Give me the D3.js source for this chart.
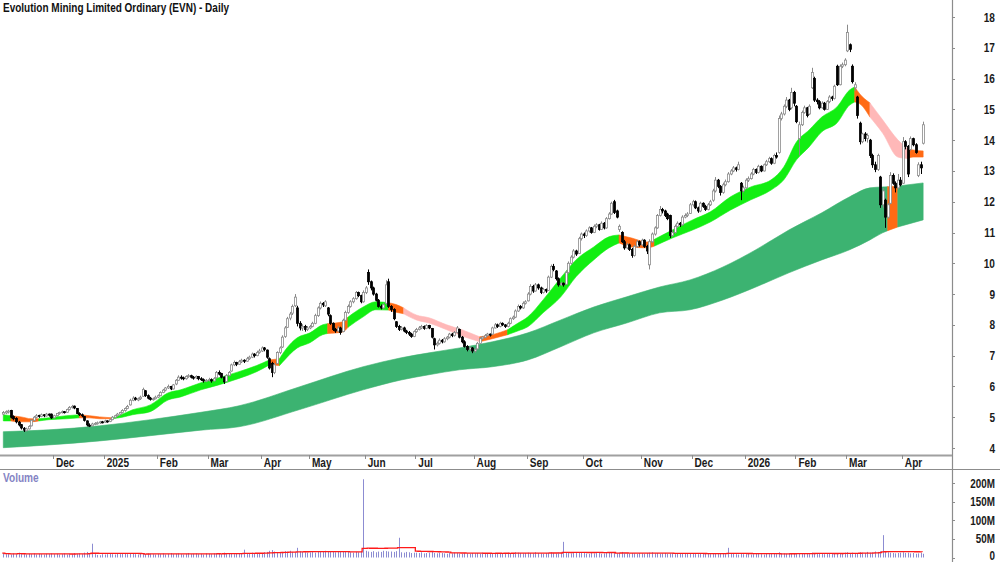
<!DOCTYPE html>
<html>
<head>
<meta charset="utf-8">
<script src="https://cdn.jsdelivr.net/npm/d3@7"></script>
<style>
body{margin:0;background:#fff}
svg{display:block;font-family:"Liberation Sans",Arial,sans-serif}
</style>
</head>
<body>
<div id="chart"></div>
<script>
// daily candles [open, high, low, close], Nov 2024 .. Apr 2026
var ohlc = [
// Nov 2024
[5.10,5.20,5.06,5.15],[5.14,5.22,5.10,5.18],[5.18,5.24,5.12,5.20],[5.22,5.24,4.96,5.00],[5.02,5.06,4.90,4.95],
[4.96,5.00,4.80,4.85],[4.84,4.88,4.70,4.75],[4.76,4.78,4.60,4.65],[4.64,4.68,4.52,4.58],[4.56,4.66,4.54,4.62],
[4.62,4.74,4.60,4.70],[4.72,4.94,4.70,4.90],[4.90,5.04,4.86,5.00],[5.00,5.10,4.96,5.05],[5.06,5.08,4.98,5.02],
[5.02,5.12,5.00,5.08],[5.08,5.10,5.00,5.05],[5.04,5.14,5.02,5.10],[5.10,5.12,5.02,5.08],[5.10,5.12,4.94,4.98],
// Dec
[4.98,5.08,4.96,5.05],[5.05,5.14,5.02,5.12],[5.12,5.18,5.08,5.15],[5.15,5.22,5.12,5.18],[5.18,5.20,5.12,5.16],
[5.16,5.28,5.14,5.25],[5.25,5.36,5.22,5.32],[5.32,5.40,5.28,5.35],[5.36,5.38,5.26,5.30],[5.28,5.30,5.10,5.12],
[5.12,5.16,5.04,5.08],[5.08,5.12,5.00,5.05],[5.02,5.04,4.86,4.90],[4.88,4.90,4.70,4.75],[4.74,4.80,4.68,4.72],
[4.72,4.82,4.70,4.78],[4.78,4.84,4.74,4.80],[4.80,4.86,4.76,4.82],[4.82,4.88,4.78,4.85],[4.85,4.88,4.80,4.84],
// Jan 2025
[4.84,4.92,4.82,4.88],[4.88,4.90,4.82,4.86],[4.86,4.96,4.84,4.92],[4.92,5.04,4.90,5.00],[5.00,5.08,4.96,5.05],
[5.05,5.14,5.02,5.10],[5.10,5.18,5.06,5.15],[5.15,5.26,5.12,5.22],[5.22,5.32,5.18,5.28],[5.28,5.40,5.26,5.35],
[5.40,5.60,5.38,5.55],[5.55,5.68,5.52,5.62],[5.62,5.66,5.54,5.58],[5.56,5.64,5.52,5.60],[5.60,5.70,5.56,5.65],
[5.68,5.96,5.66,5.90],[5.86,5.88,5.66,5.70],[5.70,5.74,5.58,5.62],[5.62,5.66,5.54,5.58],[5.58,5.64,5.54,5.60],
[5.60,5.70,5.58,5.65],
// Feb
[5.65,5.74,5.62,5.70],[5.70,5.84,5.68,5.80],[5.80,5.92,5.78,5.88],[5.88,5.98,5.84,5.95],[5.95,6.06,5.92,6.00],
[6.00,6.02,5.88,5.92],[5.92,6.08,5.90,6.05],[6.08,6.24,6.04,6.20],[6.20,6.36,6.18,6.30],[6.30,6.36,6.22,6.28],
[6.28,6.32,6.20,6.25],[6.25,6.36,6.22,6.32],[6.32,6.40,6.28,6.35],[6.35,6.38,6.26,6.30],[6.30,6.34,6.22,6.28],
[6.28,6.36,6.24,6.32],[6.32,6.34,6.20,6.25],[6.25,6.30,6.18,6.22],[6.22,6.26,6.12,6.18],[6.18,6.24,6.14,6.20],
// Mar
[6.20,6.28,6.16,6.22],[6.22,6.26,6.12,6.18],[6.18,6.30,6.16,6.25],[6.28,6.50,6.26,6.45],[6.45,6.52,6.36,6.40],
[6.42,6.44,6.26,6.30],[6.30,6.32,6.08,6.15],[6.16,6.40,6.14,6.35],[6.35,6.50,6.32,6.45],[6.50,6.74,6.48,6.70],
[6.70,6.84,6.66,6.78],[6.78,6.80,6.66,6.72],[6.72,6.86,6.70,6.80],[6.80,6.90,6.76,6.85],[6.85,6.88,6.76,6.82],
[6.82,6.96,6.80,6.90],[6.90,7.00,6.86,6.95],[6.95,7.10,6.92,7.05],[7.05,7.08,6.94,7.00],[7.00,7.16,6.98,7.10],
[7.10,7.22,7.06,7.15],
// Apr
[7.15,7.30,7.12,7.25],[7.25,7.28,7.14,7.20],[7.18,7.20,6.90,6.95],[6.90,6.94,6.55,6.60],[6.75,6.80,6.30,6.45],
[6.45,6.76,6.40,6.70],[6.75,7.14,6.72,7.10],[7.10,7.30,7.05,7.25],[7.28,7.66,7.25,7.60],[7.62,7.96,7.58,7.90],
[7.92,8.26,7.90,8.20],[8.22,8.42,8.15,8.35],[8.38,8.66,8.32,8.60],[8.62,9.00,8.58,8.90],[8.55,8.62,7.95,8.05],
[8.05,8.12,7.82,7.90],[7.90,8.02,7.80,7.95],[7.95,8.00,7.78,7.85],[7.85,7.96,7.80,7.90],
// May
[7.90,8.00,7.86,7.95],[7.95,8.10,7.92,8.05],[8.05,8.36,8.02,8.30],[8.30,8.60,8.26,8.55],[8.55,8.76,8.50,8.70],
[8.70,8.74,8.58,8.65],[8.62,8.80,8.58,8.75],[8.55,8.58,8.28,8.35],[8.30,8.34,8.00,8.05],[8.05,8.08,7.80,7.85],
[7.85,7.90,7.74,7.80],[7.80,7.96,7.76,7.90],[7.90,7.94,7.68,7.75],[7.78,8.20,7.76,8.15],[8.15,8.46,8.12,8.40],
[8.40,8.66,8.36,8.60],[8.60,8.80,8.56,8.75],[8.75,8.90,8.70,8.85],[8.85,9.10,8.82,9.05],[9.05,9.08,8.90,8.95],
[8.95,8.98,8.70,8.75],[8.75,9.12,8.72,9.05],
// Jun
[9.05,9.26,9.00,9.20],[9.70,9.80,9.30,9.40],[9.40,9.44,9.12,9.20],[9.20,9.24,8.95,9.00],[9.00,9.04,8.76,8.80],
[8.80,8.84,8.56,8.60],[8.60,8.66,8.50,8.55],[8.55,8.70,8.52,8.65],[8.70,9.45,8.66,9.30],[9.40,9.50,8.55,8.60],
[8.60,8.64,8.42,8.50],[8.50,8.54,8.15,8.20],[8.10,8.12,7.90,7.95],[7.95,8.00,7.80,7.85],[7.85,7.96,7.82,7.90],
[7.90,7.94,7.76,7.80],[7.80,7.84,7.70,7.75],[7.75,7.80,7.64,7.70],[7.70,7.74,7.58,7.62],[7.62,7.82,7.60,7.78],
// Jul
[7.78,7.90,7.74,7.85],[7.85,7.96,7.82,7.90],[7.90,8.00,7.86,7.95],[7.95,7.98,7.84,7.88],[7.88,8.02,7.86,7.98],
[7.98,8.00,7.86,7.90],[7.88,7.90,7.56,7.60],[7.55,7.58,7.20,7.35],[7.35,7.46,7.30,7.40],[7.40,7.56,7.36,7.50],
[7.50,7.54,7.40,7.45],[7.45,7.60,7.42,7.55],[7.55,7.64,7.50,7.60],[7.60,7.74,7.56,7.70],[7.70,7.74,7.60,7.65],
[7.65,7.80,7.62,7.75],[7.75,7.96,7.72,7.90],[7.85,7.88,7.56,7.60],[7.60,7.64,7.40,7.45],[7.45,7.50,7.26,7.30],
[7.30,7.34,7.14,7.20],[7.20,7.30,7.16,7.25],[7.25,7.28,7.08,7.15],
// Aug
[7.15,7.24,7.10,7.20],[7.22,7.44,7.20,7.40],[7.40,7.60,7.38,7.55],[7.55,7.64,7.52,7.60],[7.60,7.70,7.56,7.65],
[7.65,7.74,7.62,7.70],[7.70,7.72,7.62,7.68],[7.70,7.94,7.68,7.90],[7.90,8.06,7.88,8.00],[8.00,8.04,7.90,7.95],
[7.95,8.10,7.92,8.05],[8.05,8.08,7.96,8.00],[8.00,8.02,7.90,7.95],[7.95,8.10,7.92,8.05],[8.05,8.24,8.02,8.20],
[8.20,8.30,8.16,8.25],[8.25,8.50,8.22,8.45],[8.45,8.66,8.42,8.60],[8.60,8.64,8.50,8.55],[8.55,8.76,8.52,8.70],
[8.70,8.80,8.66,8.75],
// Sep
[8.78,9.06,8.76,9.00],[9.00,9.32,8.96,9.25],[9.25,9.30,9.04,9.10],[9.10,9.36,9.08,9.30],[9.30,9.34,9.14,9.20],
[9.20,9.24,9.00,9.05],[9.05,9.20,9.02,9.15],[9.15,9.18,9.04,9.10],[9.12,9.60,9.10,9.55],[9.55,9.96,9.52,9.90],
[9.90,9.98,9.74,9.80],[9.75,9.78,9.44,9.50],[9.50,9.54,9.24,9.30],[9.30,9.40,9.26,9.35],[9.35,9.38,9.24,9.30],
[9.32,9.76,9.30,9.70],[9.70,10.06,9.66,10.00],[10.00,10.26,9.96,10.20],[10.20,10.46,10.16,10.40],[10.40,10.44,10.24,10.30],
[10.32,10.86,10.30,10.80],[10.80,11.00,10.74,10.95],
// Oct
[10.95,11.00,10.82,10.90],[10.90,11.10,10.86,11.05],[11.05,11.20,11.00,11.15],[11.15,11.18,10.96,11.00],[11.00,11.26,10.98,11.20],
[11.20,11.30,11.14,11.25],[11.25,11.28,11.06,11.10],[11.10,11.36,11.08,11.30],[11.30,11.34,11.10,11.15],[11.15,11.50,11.12,11.45],
[11.45,11.66,11.42,11.60],[11.60,12.00,11.58,11.95],[12.00,12.06,11.60,11.65],[11.70,11.74,11.46,11.50],[11.10,11.26,11.02,11.20],
[11.00,11.04,10.66,10.70],[10.70,10.76,10.44,10.50],[10.50,10.66,10.46,10.60],[10.60,10.64,10.40,10.45],[10.45,10.50,10.18,10.25],
[10.25,10.60,10.22,10.55],[10.55,10.76,10.50,10.70],[10.70,10.74,10.54,10.60],
// Nov
[10.60,10.80,10.56,10.75],[10.75,10.78,10.50,10.55],[10.55,10.60,10.30,10.40],[9.95,10.78,9.80,10.70],[10.70,11.00,10.66,10.95],
[10.95,11.20,10.90,11.15],[11.15,11.60,11.12,11.55],[11.55,11.86,11.52,11.75],[11.75,11.80,11.62,11.70],[11.70,11.74,11.50,11.55],
[11.60,11.64,11.40,11.45],[11.55,11.58,10.82,10.90],[10.90,11.08,10.86,11.00],[11.00,11.26,10.96,11.20],[11.20,11.36,11.16,11.30],
[11.30,11.34,11.18,11.25],[11.25,11.56,11.22,11.50],[11.50,11.62,11.46,11.55],[11.55,11.66,11.50,11.60],[11.62,11.96,11.60,11.90],
// Dec
[11.90,12.06,11.84,12.00],[12.00,12.04,11.76,11.80],[11.80,11.84,11.64,11.70],[11.70,12.00,11.66,11.95],[11.95,11.98,11.80,11.85],
[11.85,11.90,11.70,11.75],[11.75,11.96,11.72,11.90],[11.90,12.06,11.86,12.00],[12.05,12.42,12.00,12.35],[12.35,12.80,12.30,12.70],
[12.70,12.74,12.44,12.50],[12.50,12.54,12.20,12.30],[12.30,12.62,12.26,12.55],[12.55,12.72,12.50,12.65],[12.65,12.96,12.62,12.90],
[12.90,13.06,12.86,13.00],[13.00,13.16,12.96,13.10],[13.10,13.14,12.98,13.05],[13.05,13.30,13.02,13.20],[12.60,12.64,12.05,12.35],
[12.35,12.52,12.30,12.45],
// Jan 2026
[12.45,12.76,12.42,12.70],[12.70,12.82,12.64,12.75],[12.75,12.96,12.72,12.90],[12.90,13.10,12.86,13.05],[13.05,13.08,12.90,12.95],
[12.95,13.20,12.92,13.15],[13.15,13.18,12.96,13.00],[13.00,13.24,12.98,13.20],[13.20,13.36,13.16,13.30],[13.30,13.46,13.26,13.40],
[13.40,13.44,13.20,13.25],[13.25,13.56,13.22,13.50],[13.50,13.60,13.40,13.45],[13.60,14.80,13.56,14.70],[14.70,14.92,14.64,14.85],
[14.85,15.16,14.80,15.10],[15.10,15.40,15.04,15.30],[15.30,15.34,14.94,15.00],[15.05,15.70,15.00,15.55],[15.55,15.60,15.10,15.20],
// Feb
[15.10,15.14,14.55,14.60],[14.05,14.60,13.50,14.50],[14.50,14.96,14.46,14.90],[14.90,15.12,14.86,15.05],[15.05,15.08,14.74,14.80],
[14.85,15.16,14.82,15.10],[15.70,16.35,15.66,16.20],[16.00,16.06,15.24,15.30],[15.30,15.36,15.16,15.25],[15.25,15.30,15.00,15.05],
[15.05,15.26,15.02,15.20],[15.20,15.24,14.96,15.00],[15.00,15.30,14.98,15.25],[15.25,15.46,15.20,15.40],[15.40,15.44,15.28,15.35],
[15.35,15.80,15.32,15.75],[16.40,16.45,15.76,15.80],[15.80,16.46,15.78,16.40],[16.40,16.52,16.34,16.45],[16.45,16.66,16.40,16.60],
// Mar
[16.90,17.75,16.86,17.50],[17.10,17.14,16.86,16.95],[16.40,16.46,15.84,15.90],[15.70,15.88,15.60,15.80],[15.40,15.44,14.70,14.80],
[14.55,14.60,13.86,13.95],[13.95,14.24,13.90,14.20],[14.20,14.26,13.96,14.05],[14.05,14.22,13.92,14.15],[14.00,14.04,13.42,13.50],
[13.50,13.56,13.10,13.20],[13.20,13.30,12.96,13.05],[13.05,13.56,13.00,13.50],[12.80,12.84,11.80,11.90],[11.90,12.45,11.80,12.35],
[12.05,12.10,11.15,11.50],[11.50,11.95,11.45,11.90],[11.95,12.96,11.92,12.85],[12.85,12.92,12.55,12.60],[12.60,12.66,12.30,12.45],
[12.45,12.90,12.40,12.70],[12.70,12.80,12.50,12.55],
// Apr
[12.60,14.10,12.58,13.95],[13.95,14.00,13.70,13.80],[13.80,13.84,12.80,12.90],[13.70,14.12,13.66,14.05],[14.05,14.08,13.80,13.85],
[13.85,13.90,13.56,13.60],[12.85,13.28,12.80,13.20],[13.20,13.30,12.90,13.10],[13.90,14.60,13.86,14.50]
];

// daily volume, millions
var volume = [
12,9,10,8,11,9,13,10,9,8,10,9,11,8,10,9,8,10,9,11,
9,10,8,9,11,8,10,9,12,10,11,9,13,15,12,37,9,7,6,9,
8,9,10,9,8,11,9,10,12,9,11,10,9,8,12,10,9,11,10,9,8,
10,9,11,8,10,12,9,10,11,9,8,10,12,9,10,11,9,10,8,11,
10,9,11,12,10,9,13,11,10,12,9,11,10,12,21,12,10,13,11,12,11,
12,14,15,18,20,16,14,13,15,17,16,18,15,14,26,17,15,14,13,
14,15,13,16,17,15,18,16,17,15,14,16,15,17,16,15,14,13,15,14,16,210,
18,16,15,17,14,16,15,18,17,16,16,15,17,53,14,13,15,14,12,13,
13,12,14,11,12,13,15,12,11,13,12,11,10,12,11,13,12,11,10,12,11,10,12,
11,12,10,13,11,12,10,11,13,12,10,11,12,13,11,12,14,13,12,11,12,
13,12,11,14,12,11,10,12,13,14,12,11,13,12,42,13,12,11,13,12,14,13,
12,11,10,12,11,13,12,10,11,12,13,14,12,11,13,15,12,11,10,12,11,10,12,
11,10,12,13,14,11,12,10,11,12,10,11,12,9,10,11,10,12,11,10,
10,11,9,10,12,11,10,9,11,10,12,11,10,9,26,10,11,9,8,10,9,
9,10,8,9,10,11,9,8,10,9,11,10,9,14,12,11,10,12,11,10,
11,10,12,11,10,9,13,12,10,11,10,9,11,10,12,11,10,12,11,13,
14,12,13,11,12,14,13,12,15,13,14,16,15,17,60,15,14,13,12,11,12,13,
14,12,13,11,12,10,11,12,10
];

// month axis
var monthLabels = ["Dec","2025","Feb","Mar","Apr","May","Jun","Jul","Aug","Sep","Oct","Nov","Dec","2026","Feb","Mar","Apr"];
var monthStart  = [20,40,61,81,102,121,143,163,186,207,229,252,272,293,313,333,355];
var priceTicks = [4,5,6,7,8,9,10,11,12,13,14,15,16,17,18];
var volTicks = [0,50,100,150,200];
var volTickLabels = ["0","50M","100M","150M","200M"];

// short-term moving average ribbon (g rising, o mixed, p falling)
var shortIdx = [0,3,7,11,14,18,25,30,34,38,43,47,51,58,65,70,78,85,93,100,105,109,110,116,121,126,128,134,136,142,147,152,155,158,163,168,175,181,188,193,199,203,207,213,220,226,233,239,243,248,254,257,264,272,279,287,295,303,308,313,318,323,329,334,336,338,342,347,353,357,359,363];
var shortTop = [5.08,5.05,5.01,4.95,4.95,4.98,5.05,5.08,5.05,5.01,4.98,5.10,5.24,5.40,5.79,5.89,6.12,6.28,6.48,6.68,6.86,6.90,7.03,7.58,7.74,8.00,8.04,8.10,8.25,8.58,8.75,8.72,8.66,8.55,8.32,8.23,8.00,7.84,7.61,7.68,7.84,8.05,8.26,8.81,9.53,10.11,10.53,10.86,10.92,10.82,10.69,10.78,11.08,11.41,11.67,12.16,12.48,12.71,13.13,13.94,14.33,14.75,15.08,15.63,15.73,15.50,15.21,14.66,14.01,13.72,13.68,13.65];
var shortBot = [4.88,4.88,4.85,4.85,4.88,4.92,4.95,4.98,4.98,4.95,4.95,5.00,5.08,5.18,5.56,5.66,5.89,6.05,6.26,6.48,6.70,6.68,6.77,7.25,7.42,7.68,7.72,7.77,7.92,8.26,8.49,8.48,8.41,8.36,8.16,8.06,7.84,7.64,7.45,7.55,7.68,7.80,7.94,8.39,8.91,9.56,10.11,10.50,10.66,10.53,10.50,10.56,10.82,11.08,11.34,11.73,12.06,12.38,12.71,13.36,13.78,14.27,14.56,15.14,15.24,15.18,14.75,14.23,13.45,13.40,13.45,13.45];
var shortCol = ["g","o","o","o","g","g","g","o","o","o","g","g","g","g","g","g","g","g","g","g","o","g","g","g","g","g","o","o","g","g","g","o","o","p","p","p","p","p","o","o","g","g","g","g","g","g","g","g","o","o","o","g","g","g","g","g","g","g","g","g","g","g","g","g","o","o","p","p","p","o","o","o"];

// long-term moving average ribbon
var longIdx = [0,18,38,58,78,93,117,142,157,168,180,193,207,220,233,246,259,271,284,297,310,323,334,342,347,349,353,363];
var longTop = [4.53,4.59,4.72,4.92,5.16,5.37,5.99,6.64,6.93,7.09,7.25,7.45,7.74,8.16,8.58,8.91,9.23,9.46,9.88,10.44,11.08,11.64,12.16,12.45,12.48,12.49,12.51,12.61];
var longBot = [4.01,4.10,4.23,4.40,4.58,4.69,5.25,5.89,6.21,6.38,6.54,6.64,6.86,7.29,7.74,8.06,8.39,8.49,8.81,9.23,9.69,10.11,10.44,10.76,10.99,11.06,11.18,11.41];
var longCol = ["d","d","d","d","d","d","d","d","d","d","d","d","d","d","d","d","d","d","d","d","d","d","d","d","d","o","d","d"];

var bandColors = {g:"#12ee12", o:"#ff6a14", p:"#ffb8b8", d:"#3cb371"};

var W = 1000, H = 562, axisX = 952;
var svg = d3.select("#chart").append("svg").attr("width",W).attr("height",H);

var x = d3.scaleLinear().domain([0,363]).range([3.3, 3.3+363*2.534]);
var y = d3.scaleLinear().domain([4,18]).range([448,17]);
var yv = d3.scaleLinear().domain([0,200]).range([557.5,483]);

svg.append("clipPath").attr("id","pclip").append("rect").attr("x",0).attr("y",0).attr("width",axisX).attr("height",455);

var price = svg.append("g").attr("clip-path","url(#pclip)");

// split a ribbon into runs of the same colour
function runs(idx, col){
    var out = [], start = 0;
    for(var k=1;k<idx.length-1;k++){
        if(col[k]!=col[start]){ out.push({c:col[start],from:start,to:k}); start=k; }
    }
    out.push({c:col[start],from:start,to:idx.length-1});
    return out;
}
function drawRibbon(g, idx, top, bot, col){
    var pts = idx.map(function(d,i){return {i:d,t:top[i],b:bot[i]};});
    var area = d3.area().curve(d3.curveMonotoneX)
        .x(function(d){return x(d.i);})
        .y0(function(d){return y(d.b);})
        .y1(function(d){return y(d.t);});
    g.selectAll(null).data(runs(idx,col)).enter().append("path")
        .attr("d",function(r){return area(pts.slice(r.from,r.to+1));})
        .attr("fill",function(r){return bandColors[r.c];})
        .attr("stroke",function(r){return bandColors[r.c];})
        .attr("stroke-width",0.6);
}
drawRibbon(price.append("g"), longIdx, longTop, longBot, longCol);
drawRibbon(price.append("g"), shortIdx, shortTop, shortBot, shortCol);

// candles
var cg = price.append("g");
var cd = ohlc.map(function(d,i){return {i:i,o:d[0],h:d[1],l:d[2],c:d[3]};});
cg.selectAll("line").data(cd).enter().append("line")
    .attr("x1",function(d){return Math.round(x(d.i))+0.5;})
    .attr("x2",function(d){return Math.round(x(d.i))+0.5;})
    .attr("y1",function(d){return y(d.h);})
    .attr("y2",function(d){return y(d.l);})
    .attr("stroke",function(d){return d.c>=d.o?"#8a8a8a":"#000";})
    .attr("stroke-width",1);
cg.selectAll("rect").data(cd).enter().append("rect")
    .attr("x",function(d){return Math.round(x(d.i))-0.5;})
    .attr("width",2)
    .attr("y",function(d){return y(Math.max(d.o,d.c));})
    .attr("height",function(d){return Math.max(1,Math.abs(y(d.o)-y(d.c)));})
    .attr("fill",function(d){return d.c>=d.o?"#fff":"#000";})
    .attr("stroke",function(d){return d.c>=d.o?"#8a8a8a":"#000";})
    .attr("stroke-width",0.8);

// frame lines
svg.append("line").attr("x1",axisX+0.5).attr("x2",axisX+0.5).attr("y1",0).attr("y2",H).attr("stroke","#8c8c8c").attr("stroke-width",1.2);
svg.append("line").attr("x1",0).attr("x2",axisX).attr("y1",455.5).attr("y2",455.5).attr("stroke","#a0a0a0").attr("stroke-width",1.8);
svg.append("line").attr("x1",0).attr("x2",W).attr("y1",469.5).attr("y2",469.5).attr("stroke","#8c8c8c").attr("stroke-width",1.2);

// compress text to narrow bold look
function narrow(sel, f){
    sel.each(function(){
        var w = this.getComputedTextLength();
        d3.select(this).attr("textLength", w*f).attr("lengthAdjust","spacingAndGlyphs");
    });
}

// price axis
var pa = svg.append("g");
pa.selectAll("line").data(priceTicks).enter().append("line")
    .attr("x1",axisX).attr("x2",axisX+3)
    .attr("y1",function(d){return Math.round(y(d))+0.5;}).attr("y2",function(d){return Math.round(y(d))+0.5;})
    .attr("stroke","#8c8c8c");
pa.selectAll("text").data(priceTicks).enter().append("text")
    .attr("x",995).attr("y",function(d){return y(d)+4.5;})
    .attr("text-anchor","end").attr("font-size",12).attr("font-weight","bold").attr("fill","#1a1a1a")
    .text(function(d){return d;})
    .call(narrow,0.84);

// month axis
var ma = svg.append("g");
ma.selectAll("line").data(monthStart).enter().append("line")
    .attr("x1",function(d){return Math.round(x(d))-0.5;}).attr("x2",function(d){return Math.round(x(d))-0.5;})
    .attr("y1",455).attr("y2",459).attr("stroke","#8c8c8c");
ma.selectAll("text").data(monthStart).enter().append("text")
    .attr("x",function(d){return x(d)+2;}).attr("y",467)
    .attr("font-size",12).attr("font-weight","bold").attr("fill","#1a1a1a")
    .text(function(d,i){return monthLabels[i];})
    .call(narrow,0.84);

// volume pane
var vg = svg.append("g");
vg.selectAll("line").data(volume).enter().append("line")
    .attr("x1",function(d,i){return Math.round(x(i))+0.5;})
    .attr("x2",function(d,i){return Math.round(x(i))+0.5;})
    .attr("y1",yv(0)).attr("y2",function(d){return yv(d);})
    .attr("stroke","#8c8cd2").attr("stroke-width",1);

var volAvg = volume.map(function(d,i){
    return d3.mean(volume.slice(Math.max(0,i-20),i+1));
});
vg.append("path")
    .attr("d",d3.line().curve(d3.curveStepAfter).x(function(d,i){return x(i)-1;}).y(function(d){return yv(d);})(volAvg))
    .attr("fill","none").attr("stroke","#ff1a1a").attr("stroke-width",1.3);

var va = svg.append("g");
va.selectAll("line").data(volTicks).enter().append("line")
    .attr("x1",axisX).attr("x2",axisX+3)
    .attr("y1",function(d){return Math.round(yv(d))+0.5;}).attr("y2",function(d){return Math.round(yv(d))+0.5;})
    .attr("stroke","#8c8c8c");
va.selectAll("text").data(volTicks).enter().append("text")
    .attr("x",995).attr("y",function(d){return Math.min(yv(d)+4.5,560);})
    .attr("text-anchor","end").attr("font-size",12).attr("font-weight","bold").attr("fill","#1a1a1a")
    .text(function(d,i){return volTickLabels[i];})
    .call(narrow,0.82);

svg.append("text").attr("x",3).attr("y",482).attr("font-size",12).attr("font-weight","bold")
    .attr("fill","#8484c4").text("Volume").call(narrow,0.84);

// title
svg.append("text").attr("x",3).attr("y",12).attr("font-size",12.5).attr("font-weight","bold")
    .attr("fill","#111").text("Evolution Mining Limited Ordinary (EVN) - Daily")
    .attr("textLength",226).attr("lengthAdjust","spacingAndGlyphs");
</script>
</body>
</html>
